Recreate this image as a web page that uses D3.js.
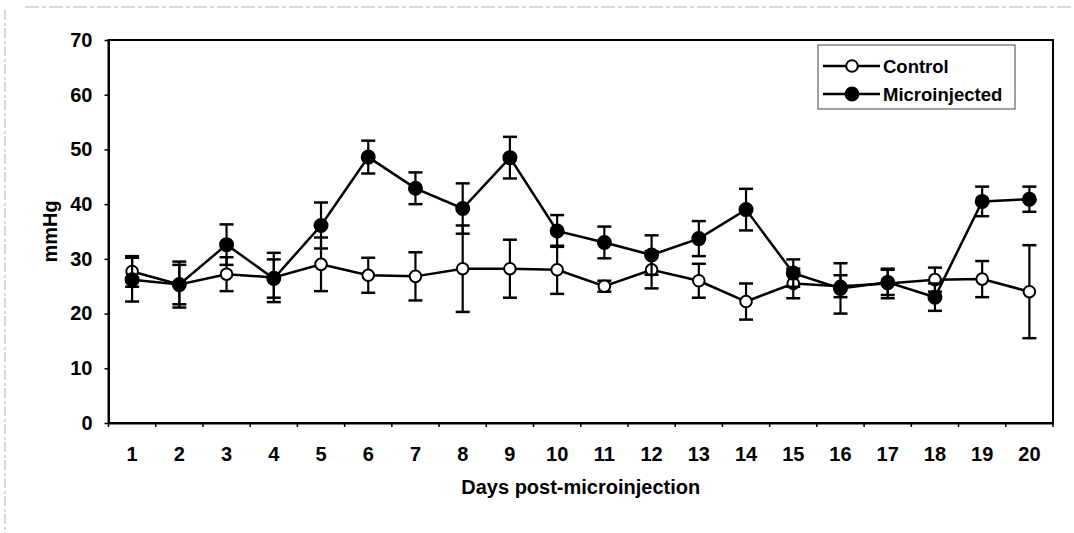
<!DOCTYPE html>
<html>
<head>
<meta charset="utf-8">
<script src="https://cdn.jsdelivr.net/npm/d3@7/dist/d3.min.js"></script>
<style>
  html, body { margin: 0; padding: 0; background: #fff; }
  svg { display: block; }
  text { font-family: "Liberation Sans", Arial, sans-serif; font-weight: bold; fill: #000; }
</style>
</head>
<body>
<svg id="chart" width="1074" height="533"></svg>
<script>
// ---- data ----
const days = ["1","2","3","4","5","6","7","8","9","10","11","12","13","14","15","16","17","18","19","20"];
const control    = [27.7, 25.3, 27.2, 26.6, 29.0, 27.0, 26.8, 28.2, 28.2, 28.0, 25.0, 28.0, 26.0, 22.2, 25.5, 25.0, 25.5, 26.2, 26.3, 24.0];
const controlErr = [2.8, 4.2, 3.1, 4.5, 4.9, 3.2, 4.4, 7.9, 5.3, 4.4, 1.0, 3.4, 3.1, 3.3, 2.7, 2.0, 2.7, 2.2, 3.3, 8.5];
const micro      = [26.2, 25.3, 32.6, 26.4, 36.1, 48.6, 42.9, 39.2, 48.5, 35.1, 33.0, 30.7, 33.7, 39.0, 27.4, 24.6, 25.7, 23.0, 40.5, 40.9];
const microErr   = [4.0, 3.6, 3.7, 3.5, 4.2, 3.0, 2.9, 4.6, 3.8, 2.9, 2.9, 3.6, 3.2, 3.8, 2.5, 4.6, 2.3, 2.5, 2.7, 2.3];
const yTicks = [0, 10, 20, 30, 40, 50, 60, 70];
const seriesNames = ["Control", "Microinjected"];
const xTitle = "Days post-microinjection";
const yTitle = "mmHg";

// ---- layout ----
const svg = d3.select("#chart");
const L = 108.5, R = 1053, T = 40, B = 423;
const x = d3.scaleBand().domain(days).range([L, R]);
const y = d3.scaleLinear().domain([0, 70]).range([B, T]);

// outer scan border (light gray)
svg.append("line").attr("x1", 25).attr("x2", 1074).attr("y1", 7).attr("y2", 7)
  .attr("stroke", "#b0b0b0").attr("stroke-width", 1).attr("stroke-dasharray", "14,3,4,3");
svg.append("line").attr("x1", 5).attr("x2", 5).attr("y1", 10).attr("y2", 533)
  .attr("stroke", "#b0b0b0").attr("stroke-width", 1).attr("stroke-dasharray", "10,3,3,2");

// plot frame
svg.append("rect").attr("x", L).attr("y", T).attr("width", R - L).attr("height", B - T)
  .attr("fill", "none").attr("stroke", "#000").attr("stroke-width", 2);

// y axis
const yAxis = svg.append("g").attr("transform", `translate(${L},0)`)
  .call(d3.axisLeft(y).tickValues(yTicks).tickSize(4).tickPadding(12).tickSizeOuter(0));
yAxis.select(".domain").attr("stroke", "#000").attr("stroke-width", 2);
yAxis.selectAll(".tick line").attr("stroke", "#000").attr("stroke-width", 1.5);
yAxis.selectAll("text").style("font-size", "20px").style("font-family", "Liberation Sans, Arial, sans-serif").style("font-weight", "bold");

// x axis labels (centered in bands)
const xAxis = svg.append("g").attr("transform", `translate(0,${B})`)
  .call(d3.axisBottom(x).tickSize(0).tickPadding(24).tickSizeOuter(0));
xAxis.select(".domain").attr("stroke", "#000").attr("stroke-width", 2);
xAxis.selectAll("text").style("font-size", "20px").style("font-family", "Liberation Sans, Arial, sans-serif").style("font-weight", "bold");
// x tick marks at band boundaries
const bounds = days.map(d => x(d)).concat([x(days[days.length - 1]) + x.bandwidth()]);
svg.append("g").selectAll("line").data(bounds).join("line")
  .attr("x1", d => d).attr("x2", d => d).attr("y1", B).attr("y2", B + 4)
  .attr("stroke", "#000").attr("stroke-width", 1.5);

// axis titles
svg.append("text").attr("x", (L + R) / 2).attr("y", 494).attr("text-anchor", "middle")
  .style("font-size", "20px").text(xTitle);
svg.append("text").attr("transform", `translate(57,${(T + B) / 2}) rotate(-90)`)
  .attr("text-anchor", "middle").style("font-size", "20px").text(yTitle);

// series
const cx = i => x(days[i]) + x.bandwidth() / 2;
function drawSeries(vals, errs, filled) {
  const g = svg.append("g");
  const pts = vals.map((v, i) => ({ i, v, e: errs[i] }));
  // error bars
  const eb = g.selectAll("g.eb").data(pts).join("g");
  eb.append("line").attr("x1", d => cx(d.i)).attr("x2", d => cx(d.i))
    .attr("y1", d => y(d.v - d.e)).attr("y2", d => y(d.v + d.e))
    .attr("stroke", "#000").attr("stroke-width", 2.2);
  eb.append("line").attr("x1", d => cx(d.i) - 7).attr("x2", d => cx(d.i) + 7)
    .attr("y1", d => y(d.v + d.e)).attr("y2", d => y(d.v + d.e))
    .attr("stroke", "#000").attr("stroke-width", 2.5);
  eb.append("line").attr("x1", d => cx(d.i) - 7).attr("x2", d => cx(d.i) + 7)
    .attr("y1", d => y(d.v - d.e)).attr("y2", d => y(d.v - d.e))
    .attr("stroke", "#000").attr("stroke-width", 2.5);
  // line
  g.append("path").datum(pts)
    .attr("d", d3.line().x(d => cx(d.i)).y(d => y(d.v)))
    .attr("fill", "none").attr("stroke", "#000").attr("stroke-width", 2.5);
  // markers
  g.selectAll("circle").data(pts).join("circle")
    .attr("cx", d => cx(d.i)).attr("cy", d => y(d.v))
    .attr("r", filled ? 6.5 : 5.8)
    .attr("fill", filled ? "#000" : "#fff")
    .attr("stroke", "#000").attr("stroke-width", 2);
}
drawSeries(control, controlErr, false);
drawSeries(micro, microErr, true);

// legend
const lg = svg.append("g");
lg.append("rect").attr("x", 818).attr("y", 45).attr("width", 197).attr("height", 64)
  .attr("fill", "#fff").attr("stroke", "#444").attr("stroke-width", 1);
const rows = [{ name: seriesNames[0], filled: false, yy: 66 }, { name: seriesNames[1], filled: true, yy: 94 }];
rows.forEach(r => {
  lg.append("line").attr("x1", 823).attr("x2", 880).attr("y1", r.yy).attr("y2", r.yy)
    .attr("stroke", "#000").attr("stroke-width", 2.5);
  lg.append("circle").attr("cx", 852).attr("cy", r.yy).attr("r", r.filled ? 6.5 : 5.8)
    .attr("fill", r.filled ? "#000" : "#fff").attr("stroke", "#000").attr("stroke-width", 2);
  lg.append("text").attr("x", 883).attr("y", r.yy).attr("dy", "0.36em")
    .style("font-size", "18.5px").text(r.name);
});
</script>
</body>
</html>
